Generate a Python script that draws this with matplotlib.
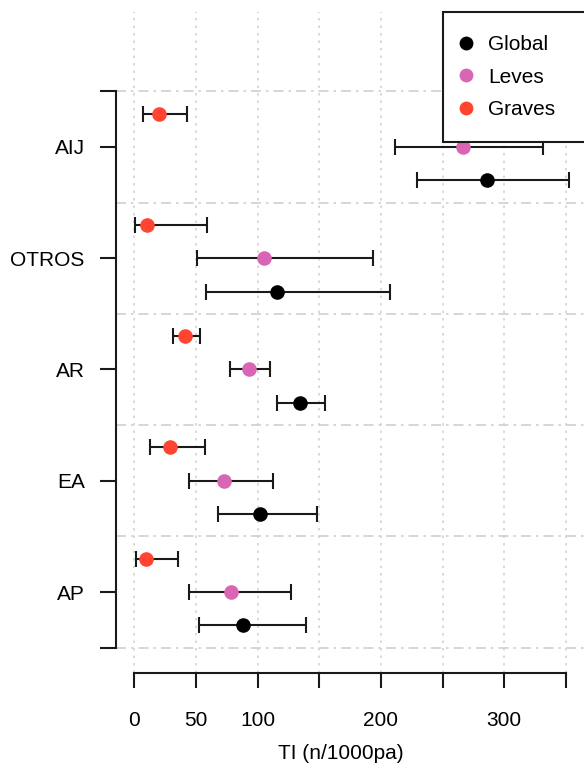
import matplotlib
matplotlib.use("Agg")
import matplotlib.pyplot as plt

plt.rcParams["font.family"] = ["Liberation Sans", "DejaVu Sans"]

# ── Datos (TI por 1000 pacientes-año) ────────────────────────────────────────
categorias = ["AP", "EA", "AR", "OTROS", "AIJ"]

global_ti = [87.9, 102.0, 134.4, 115.7, 285.8]
global_lo = [52.5, 68.1, 115.5, 58.2, 229.3]
global_hi = [139.0, 147.9, 154.7, 207.4, 352.8]

leves_ti = [78.2, 73.0, 93.0, 105.2, 266.3]
leves_lo = [44.6, 44.6, 77.9, 50.6, 211.7]
leves_hi = [126.8, 112.7, 110.3, 193.8, 331.2]

graves_ti = [9.7, 29.0, 41.1, 10.5, 19.8]
graves_lo = [1.1, 12.7, 31.1, 0.3, 7.3]
graves_hi = [35.2, 57.6, 53.3, 58.7, 42.7]

x_ticks = [0, 50, 100, 150, 200, 250, 300, 350]
x_tick_labels = ["0", "50", "100", "", "200", "", "300", ""]

COLORES = {"Global": "#000000", "Leves": "#D966B4", "Graves": "#FF4530"}
FS = 15

# ── Figura ────────────────────────────────────────────────────────────────────
W, H = 584, 769
fig = plt.figure(figsize=(W / 100, H / 100), dpi=100)
ax = fig.add_axes([116 / W, (H - 673) / H, 468 / W, 661 / H])

pos = list(range(1, len(categorias) + 1))
series = [
    ("Global", global_ti, global_lo, global_hi, -0.3),
    ("Leves", leves_ti, leves_lo, leves_hi, 0.0),
    ("Graves", graves_ti, graves_lo, graves_hi, 0.3),
]

# rejilla
for xv in x_ticks:
    ax.axvline(xv, color="#D3D3D3", linestyle=(0, (1.5, 3)), linewidth=1.2, zorder=0)
for yv in [p - 0.5 for p in pos] + [pos[-1] + 0.5]:
    ax.axhline(yv, color="#CFCFCF", linestyle=(0, (6, 3, 1.5, 3)), linewidth=1.2, zorder=0)

handles = []
for nombre, ti, lo, hi, off in series:
    ys = [p + off for p in pos]
    err = [[t - l for t, l in zip(ti, lo)], [h - t for h, t in zip(hi, ti)]]
    ax.errorbar(ti, ys, xerr=err, fmt="none", ecolor="#1A1A1A",
                elinewidth=1.5, capsize=6, capthick=1.5, zorder=2)
    h = ax.plot(ti, ys, "o", color=COLORES[nombre], markersize=10.5,
                markeredgewidth=0, zorder=3, label=nombre)[0]
    handles.append(h)

ax.set_xlim(-14.8, 364.7)
ax.set_ylim(0.272, 6.213)

# ejes estilo R
for s in ["top", "right"]:
    ax.spines[s].set_visible(False)
ax.spines["left"].set_bounds(0.5, 5.5)
ax.spines["bottom"].set_bounds(0, 350)
for s in ["left", "bottom"]:
    ax.spines[s].set_linewidth(1.5)
    ax.spines[s].set_color("#1A1A1A")

ax.set_yticks([0.5] + pos + [5.5])
ax.set_yticklabels([""] + categorias + [""])
ax.set_xticks(x_ticks)
ax.set_xticklabels(x_tick_labels)
ax.tick_params(axis="y", length=11.5, width=1.5, pad=11, labelsize=FS, color="#1A1A1A")
ax.tick_params(axis="x", length=11, width=1.5, pad=16, labelsize=FS, color="#1A1A1A")
ax.set_xlabel("TI (n/1000pa)", fontsize=FS)
ax.xaxis.set_label_coords(0.481, -0.107)

# la caja de la leyenda se sale por la derecha, como en el original
leg = ax.legend(handles=handles, loc="upper left", mode="expand",
                bbox_to_anchor=(443 / W, (H - 12) / H, 170 / W, 0),
                bbox_transform=fig.transFigure,
                fontsize=FS, frameon=True, fancybox=False, framealpha=1,
                edgecolor="#1A1A1A", borderaxespad=0, borderpad=1.1,
                handletextpad=1.05, labelspacing=0.66, handlelength=0.0,
                markerscale=0.95)
leg.get_frame().set_linewidth(1.5)

fig.savefig("out.png", dpi=100)
